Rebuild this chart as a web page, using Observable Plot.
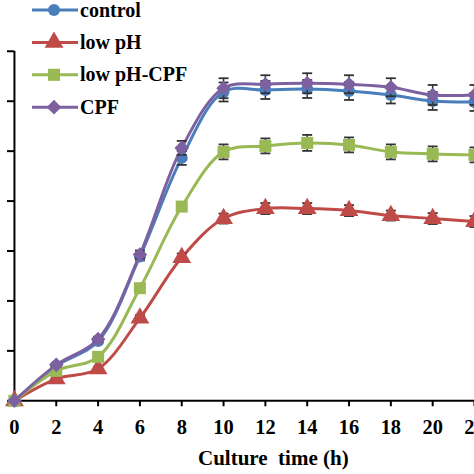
<!DOCTYPE html>
<html>
<head>
<meta charset="utf-8">
<script src="https://cdn.jsdelivr.net/npm/d3@7"></script>
<script src="https://cdn.jsdelivr.net/npm/@observablehq/plot@0.6"></script>
<style>
  html, body { margin: 0; padding: 0; overflow: hidden; background: #fff; width: 474px; height: 474px; }
  #wrap { position: relative; width: 474px; height: 474px; overflow: hidden; }
  #wrap > svg { position: absolute; left: 0; top: 0; }
  #xlabel { position: absolute; left: 198px; top: 446px; font: bold 21px "Liberation Serif", "Times New Roman", serif; white-space: pre; color: #000; }
</style>
</head>
<body>
<div id="wrap"></div>
<script>
// ---- data ----
const times = [0, 2, 4, 6, 8, 10, 12, 14, 16, 18, 20, 22];
const seriesNames = ["control", "low pH", "low pH-CPF", "CPF"];
const control  = [0, 0.140, 0.239, 0.578, 0.973, 1.237, 1.245, 1.249, 1.241, 1.225, 1.201, 1.197];
const lowPH    = [0, 0.088, 0.128, 0.331, 0.574, 0.730, 0.770, 0.770, 0.762, 0.742, 0.730, 0.718];
const lowPHCPF = [0, 0.120, 0.176, 0.451, 0.778, 0.997, 1.021, 1.033, 1.025, 0.997, 0.989, 0.985];
const cpf      = [0, 0.144, 0.247, 0.586, 1.013, 1.252, 1.268, 1.272, 1.268, 1.256, 1.225, 1.225];
const errControl  = [0, 0.008, 0.010, 0.016, 0.028, 0.038, 0.036, 0.036, 0.036, 0.034, 0.036, 0.036];
const errLowPH    = [0, 0.006, 0.008, 0.012, 0.016, 0.020, 0.022, 0.022, 0.022, 0.020, 0.022, 0.022];
const errLowPHCPF = [0, 0.008, 0.008, 0.012, 0.016, 0.030, 0.030, 0.032, 0.030, 0.030, 0.030, 0.030];
const errCPF      = [0, 0.008, 0.010, 0.016, 0.028, 0.040, 0.036, 0.040, 0.036, 0.036, 0.040, 0.040];
const xTicks = [0, 2, 4, 6, 8, 10, 12, 14, 16, 18, 20, 22];
const yTicks = [0, 0.2, 0.4, 0.6, 0.8, 1.0, 1.2, 1.4];
const colors = ["#4A7EBB", "#BE4B48", "#98B954", "#7D60A0"];
const symbols = ["circle", "triangle", "square", "diamond2"];
const radii = [6, 7, 6.8, 6.6];

const valuesBy = [control, lowPH, lowPHCPF, cpf];
const errorsBy = [errControl, errLowPH, errLowPHCPF, errCPF];
const rows = seriesNames.map((s, i) => times.map((t, j) => ({series: s, t, v: valuesBy[i][j], e: errorsBy[i][j]})));

const hline = {draw(ctx, size) { const r = Math.sqrt(size / Math.PI); ctx.moveTo(-r, 0); ctx.lineTo(r, 0); }};

const marks = [
  Plot.axisY({ticks: yTicks, tickSize: 7, tickFormat: () => "", stroke: "#000", strokeWidth: 2, label: null}),
  Plot.axisX({ticks: xTicks, tickSize: 6, tickPadding: 13, stroke: "#000", strokeWidth: 2, label: null, fill: "#000",
    fontSize: 20.5, fontWeight: "bold"}),
  Plot.ruleX([0], {stroke: "#000", strokeWidth: 2}),
  Plot.ruleY([0], {stroke: "#000", strokeWidth: 2})
];
rows.forEach((data, i) => {
  const eb = data.filter(d => d.e > 0);
  marks.push(
    Plot.line(data, {x: "t", y: "v", stroke: colors[i], strokeWidth: 3, curve: "catmull-rom"}),
    Plot.ruleX(eb, {x: "t", y1: d => d.v - d.e, y2: d => d.v + d.e, stroke: "#333", strokeWidth: 1.5}),
    Plot.dot(eb, {x: "t", y: d => d.v + d.e, symbol: hline, r: 5, stroke: "#333", strokeWidth: 1.8, fill: "none"}),
    Plot.dot(eb, {x: "t", y: d => d.v - d.e, symbol: hline, r: 5, stroke: "#333", strokeWidth: 1.8, fill: "none"}),
    Plot.dot(data, {x: "t", y: "v", symbol: symbols[i], r: radii[i], fill: colors[i], stroke: "none"})
  );
});

const chart = Plot.plot({
  width: 476,
  height: 474,
  marginLeft: 14,
  marginRight: 0,
  marginTop: 51,
  marginBottom: 72,
  x: {domain: [0, 22], axis: null, label: null},
  y: {domain: [0, 1.4], axis: null, label: null},
  style: {fontFamily: "'Liberation Serif', 'Times New Roman', serif", fontWeight: "bold", color: "#000", background: "#fff", overflow: "visible"},
  marks
});
const wrap = document.getElementById("wrap");
wrap.appendChild(chart);

// legend overlay
const legend = d3.select(wrap).append("svg").attr("width", 200).attr("height", 125)
  .style("position", "absolute").style("left", "0px").style("top", "0px");
seriesNames.forEach((s, i) => {
  const g = legend.append("g").attr("transform", `translate(0, ${10 + i * 32.4})`);
  g.append("line").attr("x1", 32).attr("x2", 78).attr("y1", 0).attr("y2", 0).attr("stroke", colors[i]).attr("stroke-width", 3);
  const sym = {circle: d3.symbolCircle, triangle: d3.symbolTriangle, square: d3.symbolSquare, diamond2: d3.symbolDiamond2}[symbols[i]];
  g.append("path").attr("transform", "translate(54,0)").attr("d", d3.symbol(sym, radii[i] * radii[i] * Math.PI)()).attr("fill", colors[i]);
  g.append("text").attr("x", 80).attr("y", 6.5).text(s)
    .attr("font-family", "'Liberation Serif', 'Times New Roman', serif").attr("font-weight", "bold").attr("font-size", 20).attr("fill", "#000");
});

const xl = document.createElement("div");
xl.id = "xlabel";
xl.textContent = "Culture  time (h)";
wrap.appendChild(xl);
</script>
</body>
</html>
